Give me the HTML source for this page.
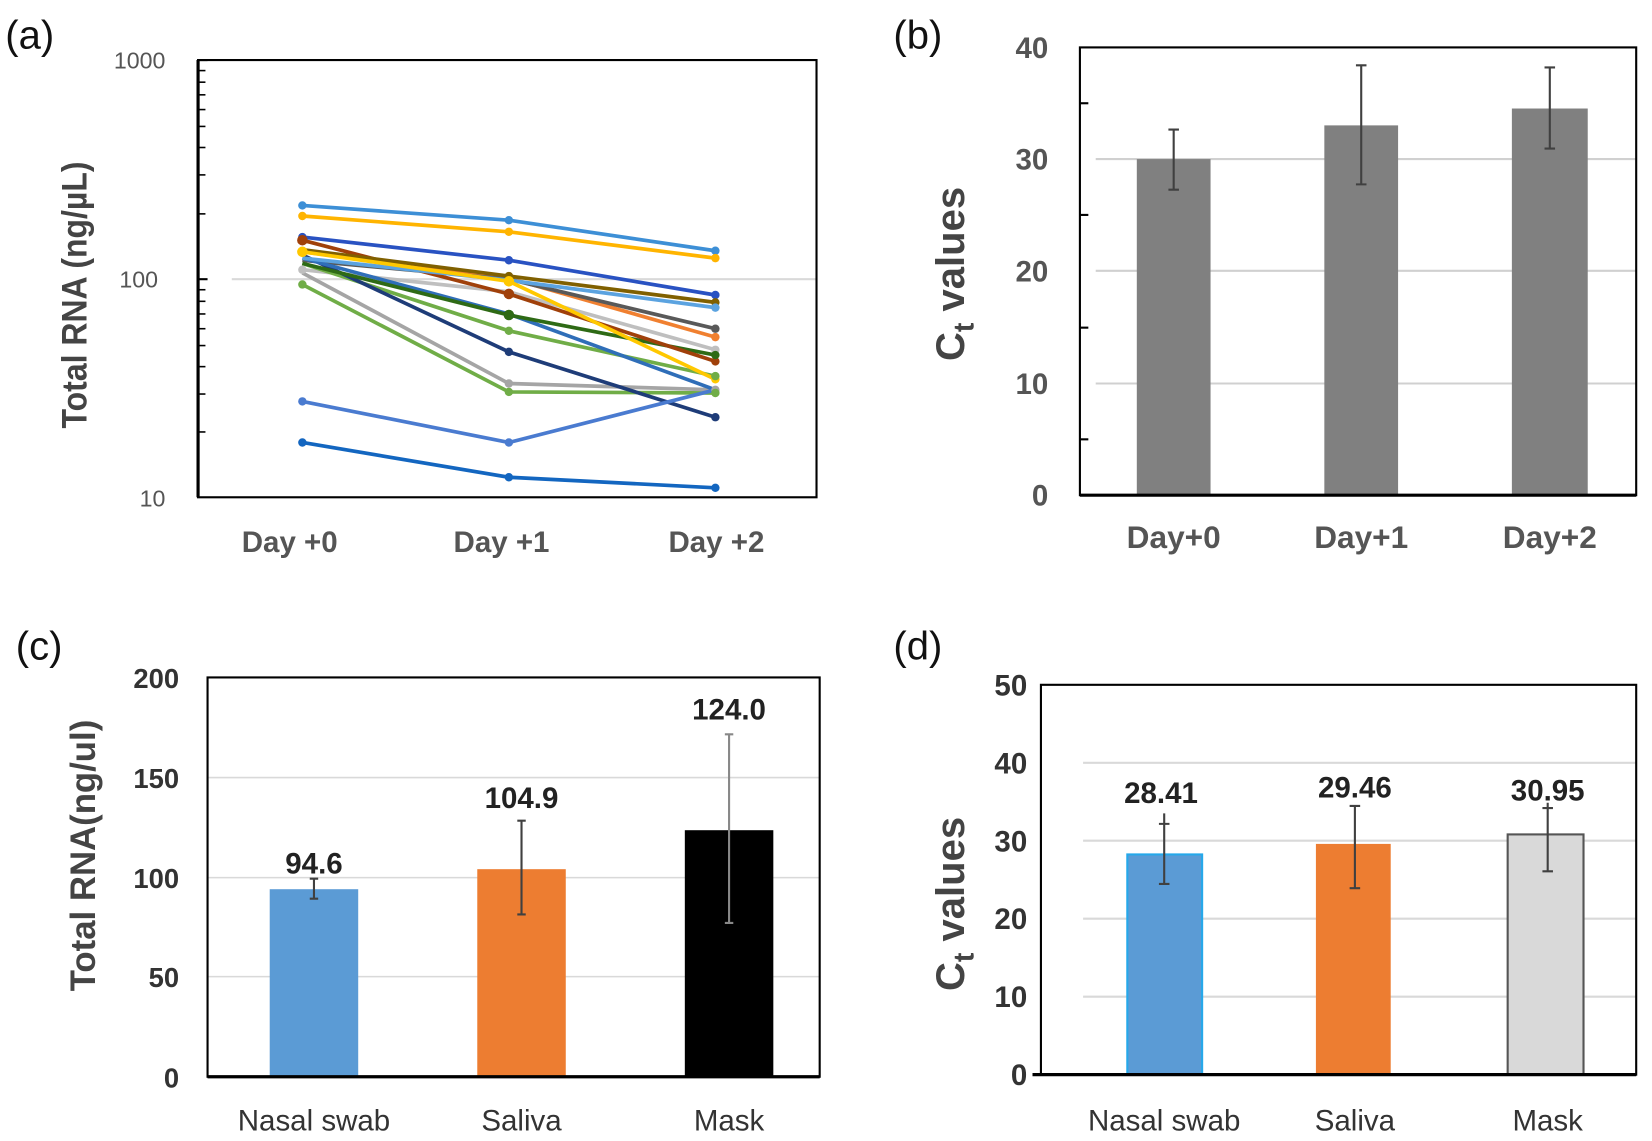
<!DOCTYPE html>
<html><head><meta charset="utf-8"><style>
html,body{margin:0;padding:0;background:#fff;}
svg{display:block;}
text{font-family:"Liberation Sans",Arial,sans-serif;}
</style></head><body>
<svg width="1652" height="1141" viewBox="0 0 1568 1083" preserveAspectRatio="none" xmlns="http://www.w3.org/2000/svg">
<rect width="1568" height="1083" fill="#fff"/>
<g font-size="38" fill="#111">
<text x="5" y="46">(a)</text>
<text x="848" y="46">(b)</text>
<text x="15" y="626">(c)</text>
<text x="848" y="626">(d)</text>
</g>

<!-- ===== Panel A ===== -->
<line x1="220" y1="265" x2="775" y2="265" stroke="#d9d9d9" stroke-width="2"/>
<rect x="188" y="57" width="587" height="415" fill="none" stroke="#000" stroke-width="2"/>
<g stroke="#000" stroke-width="2">
<line x1="188" y1="57" x2="188" y2="472" stroke-width="3"/>
<line x1="188" y1="265" x2="197" y2="265"/>
<line x1="188" y1="57" x2="197" y2="57"/>
</g>
<g stroke="#000" stroke-width="1.5">
<line x1="188" y1="410" x2="195" y2="410"/><line x1="188" y1="374" x2="195" y2="374"/><line x1="188" y1="348" x2="195" y2="348"/><line x1="188" y1="328" x2="195" y2="328"/><line x1="188" y1="312" x2="195" y2="312"/><line x1="188" y1="298" x2="195" y2="298"/><line x1="188" y1="286" x2="195" y2="286"/><line x1="188" y1="275" x2="195" y2="275"/>
<line x1="188" y1="203" x2="195" y2="203"/><line x1="188" y1="166" x2="195" y2="166"/><line x1="188" y1="140" x2="195" y2="140"/><line x1="188" y1="120" x2="195" y2="120"/><line x1="188" y1="104" x2="195" y2="104"/><line x1="188" y1="90" x2="195" y2="90"/><line x1="188" y1="78" x2="195" y2="78"/><line x1="188" y1="67" x2="195" y2="67"/>
</g>
<g font-size="22" fill="#555" text-anchor="end">
<text x="157" y="65">1000</text><text x="150" y="273">100</text><text x="157" y="481">10</text>
</g>
<g font-size="28" font-weight="bold" fill="#555" text-anchor="middle">
<text x="275" y="524">Day +0</text><text x="476" y="524">Day +1</text><text x="680" y="524">Day +2</text>
</g>
<text transform="translate(82,280) rotate(-90) scale(0.92,1)" font-size="33" font-weight="bold" fill="#444" text-anchor="middle">Total RNA (ng/µL)</text>
<g fill="none" stroke-width="3.5">
<polyline stroke="#f08030" points="287,239 483,264 679,320"/>
<polyline stroke="#bfbfbf" points="287,256 483,277 679,332"/>
<polyline stroke="#595959" points="287,247 483,265 679,312"/>
<polyline stroke="#70ad47" points="287,270 483,372 679,373"/>
<polyline stroke="#a5a5a5" points="287,259 483,364 679,370"/>
<polyline stroke="#70ad47" points="287,250 483,314 679,357"/>
<polyline stroke="#1e3c78" points="287,242 483,334 679,396"/>
<polyline stroke="#2f6eb8" points="287,245 483,298 679,370"/>
<polyline stroke="#2e6a15" points="287,250 483,299 679,337"/>
<polyline stroke="#a0400a" points="287,228 483,279 679,343"/>
<polyline stroke="#806000" points="287,237 483,262 679,287"/>
<polyline stroke="#5ba3e0" points="287,245 483,266 679,292"/>
<polyline stroke="#ffc800" points="287,239 483,267 679,360"/>
<polyline stroke="#2952c2" points="287,225 483,247 679,280"/>
<polyline stroke="#ffb400" points="287,205 483,220 679,245"/>
<polyline stroke="#3d8fd6" points="287,195 483,209 679,238"/>
<polyline stroke="#4a7bd0" points="287,381 483,420 679,370"/>
<polyline stroke="#1366c0" points="287,420 483,453 679,463"/>
</g>
<g>
<circle cx="287" cy="195" r="4" fill="#3d8fd6"/><circle cx="483" cy="209" r="4" fill="#3d8fd6"/><circle cx="679" cy="238" r="4" fill="#3d8fd6"/>
<circle cx="287" cy="205" r="4" fill="#ffb400"/><circle cx="483" cy="220" r="4" fill="#ffb400"/><circle cx="679" cy="245" r="4" fill="#ffb400"/>
<circle cx="287" cy="225" r="4" fill="#2952c2"/><circle cx="483" cy="247" r="4" fill="#2952c2"/><circle cx="679" cy="280" r="4" fill="#2952c2"/>
<circle cx="287" cy="228" r="5" fill="#a0400a"/><circle cx="483" cy="279" r="5" fill="#a0400a"/><circle cx="679" cy="343" r="4" fill="#a0400a"/>
<circle cx="483" cy="262" r="4" fill="#806000"/><circle cx="679" cy="287" r="4" fill="#806000"/>
<circle cx="679" cy="320" r="4" fill="#f08030"/><circle cx="679" cy="292" r="4" fill="#5ba3e0"/>
<circle cx="287" cy="239" r="5" fill="#ffc800"/><circle cx="483" cy="267" r="5" fill="#ffc800"/><circle cx="679" cy="360" r="4" fill="#ffc800"/>
<circle cx="287" cy="256" r="4" fill="#bfbfbf"/><circle cx="679" cy="332" r="4" fill="#bfbfbf"/><circle cx="679" cy="312" r="4" fill="#595959"/>
<circle cx="483" cy="299" r="5" fill="#2e6a15"/><circle cx="679" cy="337" r="4" fill="#2e6a15"/>
<circle cx="483" cy="314" r="4" fill="#70ad47"/><circle cx="679" cy="357" r="4" fill="#70ad47"/>
<circle cx="483" cy="334" r="4" fill="#1e3c78"/><circle cx="679" cy="396" r="4" fill="#1e3c78"/>
<circle cx="483" cy="364" r="4" fill="#a5a5a5"/><circle cx="679" cy="370" r="4" fill="#a5a5a5"/>
<circle cx="287" cy="270" r="4" fill="#70ad47"/><circle cx="483" cy="372" r="4" fill="#70ad47"/><circle cx="679" cy="373" r="4" fill="#70ad47"/>
<circle cx="287" cy="381" r="4" fill="#4a7bd0"/><circle cx="483" cy="420" r="4" fill="#4a7bd0"/>
<circle cx="287" cy="420" r="4" fill="#1366c0"/><circle cx="483" cy="453" r="4" fill="#1366c0"/><circle cx="679" cy="463" r="4" fill="#1366c0"/>
</g>

<!-- ===== Panel B ===== -->
<g stroke="#d0d0d0" stroke-width="2">
<line x1="1040" y1="151" x2="1553" y2="151"/><line x1="1040" y1="257" x2="1553" y2="257"/><line x1="1040" y1="364" x2="1553" y2="364"/>
</g>
<g fill="#808080">
<rect x="1079" y="151" width="70" height="319"/>
<rect x="1257" y="119" width="70" height="351"/>
<rect x="1435" y="103" width="72" height="367"/>
</g>
<g stroke="#404040" stroke-width="2" fill="none">
<path d="M1114,123V180M1109,123h10M1109,180h10"/>
<path d="M1292,62V175M1287,62h10M1287,175h10"/>
<path d="M1471,64V141M1466,64h10M1466,141h10"/>
</g>
<rect x="1025" y="45" width="528" height="425" fill="none" stroke="#000" stroke-width="2"/>
<line x1="1025" y1="470" x2="1553" y2="470" stroke="#000" stroke-width="3"/>
<g stroke="#000" stroke-width="2">
<line x1="1025" y1="98" x2="1033" y2="98"/><line x1="1025" y1="204" x2="1033" y2="204"/><line x1="1025" y1="311" x2="1033" y2="311"/><line x1="1025" y1="417" x2="1033" y2="417"/>
</g>
<g font-size="28" font-weight="bold" fill="#555" text-anchor="end">
<text x="995" y="55">40</text><text x="995" y="161">30</text><text x="995" y="267">20</text><text x="995" y="374">10</text><text x="995" y="480">0</text>
</g>
<g font-size="30" font-weight="bold" fill="#555" text-anchor="middle">
<text x="1114" y="520">Day+0</text><text x="1292" y="520">Day+1</text><text x="1471" y="520">Day+2</text>
</g>
<text transform="translate(915,260) rotate(-90)" font-size="38" font-weight="bold" fill="#444" text-anchor="middle">C<tspan font-size="27" dy="9">t</tspan><tspan dy="-9"> values</tspan></text>

<!-- ===== Panel C ===== -->
<g stroke="#d9d9d9" stroke-width="1.5">
<line x1="197" y1="738" x2="778" y2="738"/><line x1="197" y1="833" x2="778" y2="833"/><line x1="197" y1="927" x2="778" y2="927"/>
</g>
<rect x="256" y="844" width="84" height="178" fill="#5b9bd5"/>
<rect x="453" y="825" width="84" height="197" fill="#ed7d31"/>
<rect x="650" y="788" width="84" height="234" fill="#000"/>
<g stroke="#404040" stroke-width="2" fill="none">
<path d="M298,834V853M294,834h8M294,853h8"/>
<path d="M495,779V868M491,779h8M491,868h8"/>
<path d="M692,697V876M688,697h8M688,876h8" stroke="#888"/>
</g>
<rect x="197" y="643" width="581" height="379" fill="none" stroke="#000" stroke-width="2"/>
<line x1="197" y1="1022" x2="778" y2="1022" stroke="#000" stroke-width="3"/>
<g font-size="28" font-weight="bold" fill="#222" text-anchor="middle">
<text x="298" y="829">94.6</text><text x="495" y="767">104.9</text><text x="692" y="683">124.0</text>
</g>
<g font-size="26" fill="#333" text-anchor="end" font-weight="bold">
<text x="170" y="653">200</text><text x="170" y="748">150</text><text x="170" y="843">100</text><text x="170" y="937">50</text><text x="170" y="1032">0</text>
</g>
<g font-size="28" fill="#333" text-anchor="middle">
<text x="298" y="1073">Nasal swab</text><text x="495" y="1073">Saliva</text><text x="692" y="1073">Mask</text>
</g>
<text transform="translate(90,812) rotate(-90)" font-size="33" font-weight="bold" fill="#444" text-anchor="middle">Total RNA(ng/ul)</text>

<!-- ===== Panel D ===== -->
<g stroke="#d9d9d9" stroke-width="2">
<line x1="1028" y1="724" x2="1553" y2="724"/><line x1="1028" y1="798" x2="1553" y2="798"/><line x1="1028" y1="872" x2="1553" y2="872"/><line x1="1028" y1="946" x2="1553" y2="946"/>
</g>
<rect x="1070" y="811" width="71" height="209" fill="#5b9bd5" stroke="#25a8ea" stroke-width="2"/>
<rect x="1249" y="801" width="71" height="219" fill="#ed7d31"/>
<rect x="1431" y="792" width="72" height="228" fill="#d9d9d9" stroke="#555" stroke-width="2"/>
<g stroke="#404040" stroke-width="2" fill="none">
<path d="M1105,772V839M1100,782h10M1100,839h10"/>
<path d="M1286,765V843M1281,765h10M1281,843h10"/>
<path d="M1469,762V827M1464,767h10M1464,827h10"/>
</g>
<rect x="988" y="650" width="565" height="370" fill="none" stroke="#000" stroke-width="2"/>
<line x1="980" y1="1020" x2="1553" y2="1020" stroke="#000" stroke-width="3"/>
<g font-size="28" font-weight="bold" fill="#222" text-anchor="middle">
<text x="1102" y="762">28.41</text><text x="1286" y="757">29.46</text><text x="1469" y="760">30.95</text>
</g>
<g font-size="28" fill="#333" text-anchor="end" font-weight="bold">
<text x="975" y="660">50</text><text x="975" y="734">40</text><text x="975" y="808">30</text><text x="975" y="882">20</text><text x="975" y="956">10</text><text x="975" y="1030">0</text>
</g>
<g font-size="28" fill="#333" text-anchor="middle">
<text x="1105" y="1073">Nasal swab</text><text x="1286" y="1073">Saliva</text><text x="1469" y="1073">Mask</text>
</g>
<text transform="translate(915,858) rotate(-90)" font-size="38" font-weight="bold" fill="#444" text-anchor="middle">C<tspan font-size="27" dy="9">t</tspan><tspan dy="-9"> values</tspan></text>
</svg>
</body></html>
